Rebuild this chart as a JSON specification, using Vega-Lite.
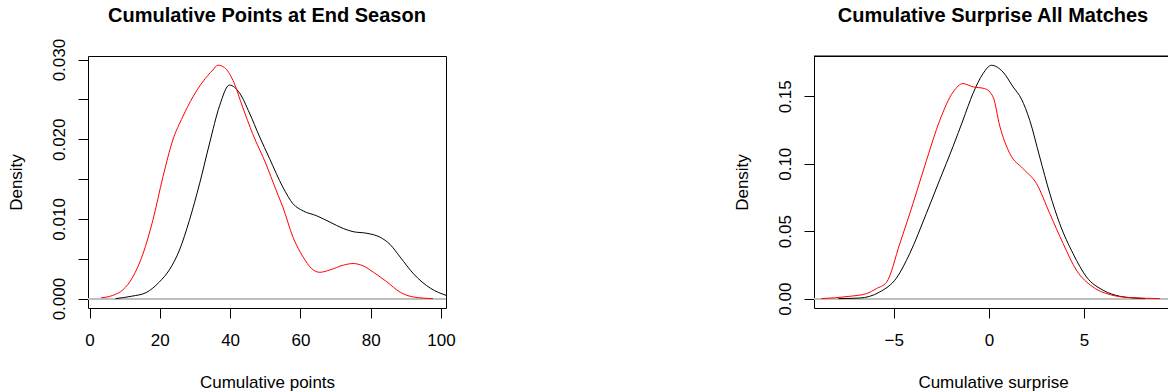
{
  "$schema": "https://vega.github.io/schema/vega-lite/v6.json",
  "padding": {"left": 7, "top": 5, "right": 0, "bottom": 0},
  "config": {
    "font": "Liberation Sans",
    "view": {"stroke": null},
    "axis": {"grid": false, "labelFont": "Liberation Sans", "labelFontSize": 17, "labelColor": "black", "titleFont": "Liberation Sans", "titleFontSize": 17, "titleFontWeight": "normal", "titleColor": "black", "tickColor": "black", "tickSize": 10, "tickWidth": 1, "domainColor": "black", "domainWidth": 1},
    "title": {"font": "Liberation Sans", "fontSize": 20, "fontWeight": "bold", "color": "black", "anchor": "middle", "baseline": "alphabetic", "frame": "group"}
  },
  "datasets": {
    "points": [
      {"series": "black", "x": 7.4, "density": 0.0},
      {"series": "black", "x": 12, "density": 0.0003},
      {"series": "black", "x": 16.1, "density": 0.00075},
      {"series": "black", "x": 19.9, "density": 0.0021},
      {"series": "black", "x": 22.7, "density": 0.0036},
      {"series": "black", "x": 25.6, "density": 0.0061},
      {"series": "black", "x": 28.4, "density": 0.0098},
      {"series": "black", "x": 31.3, "density": 0.0144},
      {"series": "black", "x": 34.1, "density": 0.0194},
      {"series": "black", "x": 37.0, "density": 0.0242},
      {"series": "black", "x": 39.8, "density": 0.0268},
      {"series": "black", "x": 42.7, "density": 0.0258},
      {"series": "black", "x": 45.5, "density": 0.0233},
      {"series": "black", "x": 48.3, "density": 0.0204},
      {"series": "black", "x": 51.2, "density": 0.0176},
      {"series": "black", "x": 55.0, "density": 0.0140},
      {"series": "black", "x": 57.9, "density": 0.0119},
      {"series": "black", "x": 60.8, "density": 0.0110},
      {"series": "black", "x": 64.6, "density": 0.0104},
      {"series": "black", "x": 68.4, "density": 0.0096},
      {"series": "black", "x": 72.2, "density": 0.0088},
      {"series": "black", "x": 75.0, "density": 0.0084},
      {"series": "black", "x": 78.9, "density": 0.0082},
      {"series": "black", "x": 82.7, "density": 0.0077},
      {"series": "black", "x": 85.5, "density": 0.0068},
      {"series": "black", "x": 88.4, "density": 0.0052},
      {"series": "black", "x": 92.2, "density": 0.0031},
      {"series": "black", "x": 97.0, "density": 0.0013},
      {"series": "black", "x": 101.5, "density": 0.0004},
      {"series": "red", "x": 3.3, "density": 0.0001},
      {"series": "red", "x": 6.6, "density": 0.0004},
      {"series": "red", "x": 9.5, "density": 0.0011},
      {"series": "red", "x": 12.3, "density": 0.0027},
      {"series": "red", "x": 15.2, "density": 0.0056},
      {"series": "red", "x": 18.0, "density": 0.0098},
      {"series": "red", "x": 20.9, "density": 0.0153},
      {"series": "red", "x": 23.7, "density": 0.0199},
      {"series": "red", "x": 26.5, "density": 0.0228},
      {"series": "red", "x": 29.4, "density": 0.0253},
      {"series": "red", "x": 32.2, "density": 0.0272},
      {"series": "red", "x": 35.1, "density": 0.0287},
      {"series": "red", "x": 36.5, "density": 0.0293},
      {"series": "red", "x": 38.4, "density": 0.0290},
      {"series": "red", "x": 40.8, "density": 0.0274},
      {"series": "red", "x": 43.6, "density": 0.0240},
      {"series": "red", "x": 46.4, "density": 0.0207},
      {"series": "red", "x": 50.2, "density": 0.0169},
      {"series": "red", "x": 53.0, "density": 0.0137},
      {"series": "red", "x": 55.0, "density": 0.0115},
      {"series": "red", "x": 57.9, "density": 0.0077},
      {"series": "red", "x": 60.8, "density": 0.0052},
      {"series": "red", "x": 63.1, "density": 0.0038},
      {"series": "red", "x": 65.5, "density": 0.0033},
      {"series": "red", "x": 68.4, "density": 0.0036},
      {"series": "red", "x": 72.2, "density": 0.0042},
      {"series": "red", "x": 75.0, "density": 0.0044},
      {"series": "red", "x": 77.9, "density": 0.0041},
      {"series": "red", "x": 80.8, "density": 0.0033},
      {"series": "red", "x": 84.6, "density": 0.0021},
      {"series": "red", "x": 88.4, "density": 0.0008},
      {"series": "red", "x": 92.2, "density": 0.0002},
      {"series": "red", "x": 97.7, "density": 0.0}
    ],
    "surprise": [
      {"series": "black", "x": -7.9, "density": 0.0},
      {"series": "black", "x": -6.8, "density": 0.0004},
      {"series": "black", "x": -5.74, "density": 0.0049},
      {"series": "black", "x": -4.86, "density": 0.0152},
      {"series": "black", "x": -4.16, "density": 0.0334},
      {"series": "black", "x": -3.29, "density": 0.063},
      {"series": "black", "x": -2.59, "density": 0.0879},
      {"series": "black", "x": -1.89, "density": 0.1126},
      {"series": "black", "x": -1.36, "density": 0.1324},
      {"series": "black", "x": -0.84, "density": 0.152},
      {"series": "black", "x": -0.31, "density": 0.1668},
      {"series": "black", "x": 0.13, "density": 0.173},
      {"series": "black", "x": 0.74, "density": 0.168},
      {"series": "black", "x": 1.27, "density": 0.157},
      {"series": "black", "x": 1.71, "density": 0.148},
      {"series": "black", "x": 2.15, "density": 0.132},
      {"series": "black", "x": 2.67, "density": 0.105},
      {"series": "black", "x": 3.2, "density": 0.0779},
      {"series": "black", "x": 3.72, "density": 0.0556},
      {"series": "black", "x": 4.42, "density": 0.0334},
      {"series": "black", "x": 5.13, "density": 0.016},
      {"series": "black", "x": 6.0, "density": 0.0062},
      {"series": "black", "x": 6.88, "density": 0.0017},
      {"series": "black", "x": 7.57, "density": 0.0005},
      {"series": "black", "x": 8.2, "density": 0.0},
      {"series": "red", "x": -8.8, "density": 0.0},
      {"series": "red", "x": -7.31, "density": 0.0017},
      {"series": "red", "x": -6.43, "density": 0.0037},
      {"series": "red", "x": -5.91, "density": 0.0074},
      {"series": "red", "x": -5.38, "density": 0.0121},
      {"series": "red", "x": -4.68, "density": 0.0408},
      {"series": "red", "x": -3.99, "density": 0.0704},
      {"series": "red", "x": -3.28, "density": 0.1025},
      {"series": "red", "x": -2.58, "density": 0.1322},
      {"series": "red", "x": -1.88, "density": 0.1532},
      {"series": "red", "x": -1.36, "density": 0.1594},
      {"series": "red", "x": -0.83, "density": 0.157},
      {"series": "red", "x": -0.22, "density": 0.1557},
      {"series": "red", "x": 0.22, "density": 0.1495},
      {"series": "red", "x": 0.57, "density": 0.128},
      {"series": "red", "x": 1.1, "density": 0.1075},
      {"series": "red", "x": 1.79, "density": 0.0964},
      {"series": "red", "x": 2.5, "density": 0.0853},
      {"series": "red", "x": 3.2, "density": 0.063},
      {"series": "red", "x": 3.9, "density": 0.0408},
      {"series": "red", "x": 4.6, "density": 0.021},
      {"series": "red", "x": 5.47, "density": 0.0086},
      {"series": "red", "x": 6.52, "density": 0.0024},
      {"series": "red", "x": 7.4, "density": 0.0008},
      {"series": "red", "x": 8.98, "density": 0.0}
    ]
  },
  "spacing": 277,
  "hconcat": [
    {
      "width": 358,
      "height": 252,
      "title": {"text": "Cumulative Points at End Season", "offset": 12},
      "view": {"stroke": "black", "strokeWidth": 1},
      "data": {"name": "points"},
      "layer": [
        {
          "mark": {"type": "rule", "color": "#BEBEBE", "strokeWidth": 1},
          "encoding": {"y": {"datum": 0, "type": "quantitative"}}
        },
        {
          "mark": {"type": "line", "strokeWidth": 1, "interpolate": "monotone", "clip": true},
          "encoding": {
            "x": {"field": "x", "type": "quantitative", "scale": {"domain": [-0.43, 101.42], "nice": false, "zero": false},
              "axis": {"values": [0, 20, 40, 60, 80, 100], "format": "d", "domain": false, "title": "Cumulative points", "labelPadding": 14, "titleBaseline": "alphabetic", "titleY": 79.5, "titleAlign": "center"}},
            "y": {"field": "density", "type": "quantitative", "scale": {"domain": [-0.00118, 0.030451], "nice": false, "zero": false},
              "axis": {"values": [0, 0.005, 0.01, 0.015, 0.02, 0.025, 0.03], "labelExpr": "round(datum.value*1000) % 10 == 0 ? format(datum.value, '.3f') : ''", "domain": false, "title": "Density", "labelAngle": -90, "labelAlign": "center", "labelBaseline": "alphabetic", "labelPadding": 13.5, "titleAngle": -90, "titleX": -71.5, "titleY": 126, "titleAlign": "center", "titleBaseline": "middle"}},
            "color": {"field": "series", "type": "nominal", "scale": {"domain": ["black", "red"], "range": ["black", "#FF0000"]}, "legend": null}
          }
        }
      ]
    },
    {
      "width": 354,
      "height": 252,
      "title": {"text": "Cumulative Surprise All Matches", "dx": 2, "offset": 30},
      "view": {"stroke": null},
      "data": {"name": "surprise"},
      "layer": [
        {
          "mark": {"type": "rule", "color": "#BEBEBE", "strokeWidth": 1},
          "encoding": {"y": {"datum": 0, "type": "quantitative"}}
        },
        {
          "mark": {"type": "rule", "color": "black", "strokeWidth": 1},
          "encoding": {"y": {"datum": 0.17951, "type": "quantitative"}}
        },
        {
          "mark": {"type": "line", "strokeWidth": 1, "interpolate": "monotone", "clip": true},
          "encoding": {
            "x": {"field": "x", "type": "quantitative", "scale": {"domain": [-9.19, 9.41], "nice": false, "zero": false},
              "axis": {"values": [-5, 0, 5], "format": "d", "domain": true, "title": "Cumulative surprise", "labelPadding": 14, "titleBaseline": "alphabetic", "titleY": 79.5, "titleX": 179, "titleAlign": "center"}},
            "y": {"field": "density", "type": "quantitative", "scale": {"domain": [-0.00697, 0.17988], "nice": false, "zero": false},
              "axis": {"values": [0, 0.05, 0.1, 0.15], "format": ".2f", "domain": true, "title": "Density", "labelAngle": -90, "labelAlign": "center", "labelBaseline": "alphabetic", "labelPadding": 13.5, "titleAngle": -90, "titleX": -71.5, "titleY": 126, "titleAlign": "center", "titleBaseline": "middle"}},
            "color": {"field": "series", "type": "nominal", "scale": {"domain": ["black", "red"], "range": ["black", "#FF0000"]}, "legend": null}
          }
        }
      ]
    }
  ]
}
